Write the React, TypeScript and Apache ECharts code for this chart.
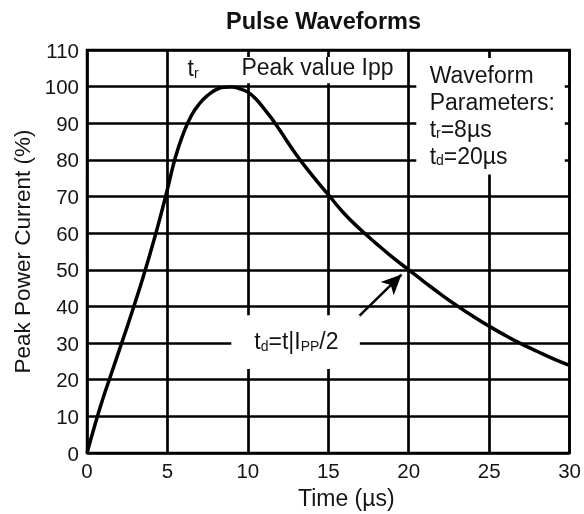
import React, { useEffect, useRef } from "react";
import * as echarts from "echarts";

const timeUs = [0, 0.5, 1, 1.5, 2, 2.5, 3, 3.5, 4, 4.5, 5, 5.5, 6, 6.5, 7, 7.5, 8, 8.5, 9, 9.5, 10, 10.5, 11, 11.5, 12, 13, 14, 15, 16, 17, 18, 19, 20, 21, 22, 23, 24, 25, 26, 27, 28, 29, 30];
const currentPct = [0, 7.8, 15, 21.5, 28, 34.5, 41.2, 48.2, 55.6, 63.5, 72, 80.8, 87.3, 92.2, 95.4, 97.6, 99.1, 99.8, 99.9, 99.4, 98.5, 96.6, 94, 91.2, 88, 81.5, 75.8, 70.5, 65.3, 61, 57.1, 53.4, 50, 46.6, 43.3, 40.2, 37.3, 34.6, 32.1, 29.8, 27.7, 25.7, 23.9];

const xTicks = { min: 0, max: 30, interval: 5 };
const yTicks = { min: 0, max: 110, interval: 10 };

const FONT = "'Liberation Sans', Arial, Helvetica, sans-serif";
const TXT = "#151515";

export default function App() {
  const ref = useRef<HTMLDivElement>(null);
  useEffect(() => {
    if (!ref.current) return;
    const chart = echarts.init(ref.current, null, { renderer: "svg" });
    const data = timeUs.map((t, i) => [t, currentPct[i]]);
    chart.setOption({
      animation: false,
      title: {
        text: "Pulse Waveforms",
        left: 221,
        top: 4,
        textStyle: { fontFamily: FONT, fontSize: 23.5, fontWeight: "bold", color: "#111" },
      },
      grid: { left: 87, top: 50, width: 487, height: 404, show: true, borderColor: "#000", borderWidth: 2.5 },
      xAxis: {
        type: "value",
        ...xTicks,
        name: "Time (µs)",
        nameLocation: "middle",
        nameGap: 33,
        nameTextStyle: { fontFamily: FONT, fontSize: 23, color: TXT, padding: [0, 0, 0, 36] },
        axisLine: { show: false },
        axisTick: { show: false },
        axisLabel: { fontFamily: FONT, fontSize: 20.5, color: TXT, margin: 7 },
        splitLine: { show: true, lineStyle: { color: "#000", width: 2.7 } },
      },
      yAxis: {
        type: "value",
        ...yTicks,
        name: "Peak Power Current (%)",
        nameLocation: "middle",
        nameGap: 51,
        nameTextStyle: { fontFamily: FONT, fontSize: 22.5, color: TXT },
        axisLine: { show: false },
        axisTick: { show: false },
        axisLabel: { fontFamily: FONT, fontSize: 20.5, color: TXT, margin: 8 },
        splitLine: { show: true, lineStyle: { color: "#000", width: 2.7 } },
      },
      series: [
        {
          type: "line",
          data,
          smooth: 0.5,
          showSymbol: false,
          z: 5,
          lineStyle: { color: "#000", width: 3.5 },
          markLine: {
            silent: true,
            symbol: ["none", "arrow"],
            symbolSize: [14, 20],
            lineStyle: { color: "#000", width: 2.5, type: "solid" },
            label: { show: false },
            data: [[{ coord: [16.5, 35.6] }, { coord: [19.55, 48.7] }]],
          },
        },
      ],
    });

    const px = (x: number, y: number) => chart.convertToPixel({ gridIndex: 0 }, [x, y]) as number[];
    const box = (x0: number, y0: number, x1: number, y1: number) => {
      const a = px(x0, y0);
      const b = px(x1, y1);
      return {
        type: "rect",
        z: 10,
        shape: { x: Math.min(a[0], b[0]), y: Math.min(a[1], b[1]), width: Math.abs(b[0] - a[0]), height: Math.abs(b[1] - a[1]) },
        style: { fill: "#fff" },
      };
    };
    const rich = {
      m: { fontFamily: FONT, fontSize: 23, color: TXT, lineHeight: 27, verticalAlign: "bottom" },
      s: { fontFamily: FONT, fontSize: 14, color: TXT, lineHeight: 16, verticalAlign: "bottom" },
    };
    const txt = (x: number, y: number, text: string, vAlign = "middle") => {
      const p = px(x, y);
      return {
        type: "text",
        z: 20,
        style: { x: p[0], y: p[1], text, rich, fill: TXT, align: "left", verticalAlign: vAlign, fontFamily: FONT, fontSize: 23 },
      };
    };

    chart.setOption({
      graphic: [
        box(9.28, 108.1, 19.0, 100.9),
        box(20.47, 107.8, 29.7, 76.0),
        box(8.97, 37.6, 16.96, 22.9),
        txt(6.25, 105.6, "{m|t}{s|r}"),
        txt(9.6, 105.8, "{m|Peak value Ipp}"),
        txt(21.3, 107.5, "{m|Waveform}\n{m|Parameters:}\n{m|t}{s|r}{m|=8µs}\n{m|t}{s|d}{m|=20µs}", "top"),
        txt(10.4, 31.0, "{m|t}{s|d}{m|=t|I}{s|PP}{m|/2}"),
      ],
    });

    return () => chart.dispose();
  }, []);
  return <div ref={ref} style={{ position: "fixed", left: 0, top: 0, width: 584, height: 514 }} />;
}
